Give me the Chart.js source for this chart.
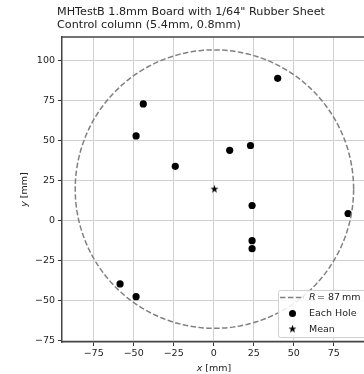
<!DOCTYPE html>
<html><head><meta charset="utf-8">
<script src="https://cdn.jsdelivr.net/npm/chart.js@4/dist/chart.umd.min.js"></script>
<style>
html,body{margin:0;padding:0;overflow:hidden;background:#fff;width:364px;height:374px}
#wrap{position:absolute;left:0;top:0;width:366px;height:374px}
</style>
</head><body><div id="wrap"><canvas id="c" width="366" height="374"></canvas></div>
<script>
const titleLines = ['MHTestB 1.8mm Board with 1/64" Rubber Sheet', 'Control column (5.4mm, 0.8mm)'];
const holeX = [40, -44, -48.5, -24, 10, 23, 24, 24, 24, 84, -58.5, -48.5];
const holeY = [89, 73, 53, 34, 44, 47, 9.5, -12.5, -17.5, 4.5, -39.5, -47.5];
const radiusMM = 87;
const xTicks = [-75, -50, -25, 0, 25, 50, 75];
const yTicks = [-75, -50, -25, 0, 25, 50, 75, 100];
const xRange = [-94.8, 95.2];
const yRange = [-75.8, 114.8];
const legendLabels = ['= 87\u2009mm', 'Each Hole', 'Mean'];
const xLabel = ['x', ' [mm]'];
const yLabel = ['y', ' [mm]'];

const FONT = "'DejaVu Sans', sans-serif";
const holes = holeX.map((x, i) => ({x: x, y: holeY[i]}));
const meanX = holeX.reduce((a, b) => a + b, 0) / holeX.length;
const meanY = holeY.reduce((a, b) => a + b, 0) / holeY.length;
const circle = [];
for (let k = 0; k <= 240; k++) {
  const t = k / 240 * 2 * Math.PI;
  circle.push({x: meanX + radiusMM * Math.cos(t), y: meanY + radiusMM * Math.sin(t)});
}

function makeStar(R) {
  const c = document.createElement('canvas');
  const s = Math.ceil(R * 2 + 2);
  c.width = s; c.height = s;
  const g = c.getContext('2d');
  g.fillStyle = '#000';
  g.beginPath();
  for (let i = 0; i < 10; i++) {
    const r = i % 2 === 0 ? R : R * 0.4;
    const a = -Math.PI / 2 + i * Math.PI / 5;
    const px = s / 2 + r * Math.cos(a), py = s / 2 + r * Math.sin(a);
    if (i === 0) g.moveTo(px, py); else g.lineTo(px, py);
  }
  g.closePath(); g.fill();
  return c;
}
const starImg = makeStar(4.2);

const minus = v => String(v).replace('-', '\u2212');

const deco = {
  id: 'deco',
  afterDraw(chart) {
    const ctx = chart.ctx, a = chart.chartArea;
    ctx.save();
    ctx.strokeStyle = '#444'; ctx.lineWidth = 1.5;
    ctx.beginPath(); ctx.moveTo(a.left, a.top); ctx.lineTo(a.right, a.top); ctx.stroke();
    ctx.fillStyle = '#222';
    ctx.font = '11.2px ' + FONT;
    ctx.textAlign = 'left'; ctx.textBaseline = 'alphabetic';
    ctx.fillText(titleLines[0], 57, 15);
    ctx.fillText(titleLines[1], 57, 28);
    const cx = (a.left + a.right) / 2;
    ctx.font = 'italic 9.5px ' + FONT;
    const w1 = ctx.measureText(xLabel[0]).width;
    ctx.font = '9.5px ' + FONT;
    const w2 = ctx.measureText(xLabel[1]).width;
    let sx = cx - (w1 + w2) / 2;
    ctx.font = 'italic 9.5px ' + FONT; ctx.fillText(xLabel[0], sx, 370.5);
    ctx.font = '9.5px ' + FONT; ctx.fillText(xLabel[1], sx + w1, 370.5);
    ctx.save();
    ctx.translate(27, (a.top + a.bottom) / 2); ctx.rotate(-Math.PI / 2);
    ctx.font = 'italic 9.5px ' + FONT;
    const v1 = ctx.measureText(yLabel[0]).width;
    ctx.font = '9.5px ' + FONT;
    const v2 = ctx.measureText(yLabel[1]).width;
    sx = -(v1 + v2) / 2;
    ctx.font = 'italic 9.5px ' + FONT; ctx.fillText(yLabel[0], sx, 0);
    ctx.font = '9.5px ' + FONT; ctx.fillText(yLabel[1], sx + v1, 0);
    ctx.restore();
    const bx = 278.5, by = 290.5, bw = 90, bh = 47;
    ctx.fillStyle = 'rgba(255,255,255,0.85)';
    ctx.strokeStyle = '#d0d0d0'; ctx.lineWidth = 1;
    ctx.beginPath();
    ctx.roundRect ? ctx.roundRect(bx, by, bw, bh, 2) : ctx.rect(bx, by, bw, bh);
    ctx.fill(); ctx.stroke();
    ctx.strokeStyle = 'gray'; ctx.lineWidth = 1.5; ctx.setLineDash([5.5, 2.4]);
    ctx.beginPath(); ctx.moveTo(280, 297.5); ctx.lineTo(304, 297.5); ctx.stroke();
    ctx.setLineDash([]);
    ctx.fillStyle = '#000';
    ctx.beginPath(); ctx.arc(292.5, 313.5, 3.5, 0, 2 * Math.PI); ctx.fill();
    ctx.drawImage(starImg, 292.5 - starImg.width / 2, 329 - starImg.height / 2);
    ctx.fillStyle = '#222'; ctx.textBaseline = 'middle';
    ctx.font = 'italic 9.5px ' + FONT;
    ctx.fillText('R', 309, 298);
    const rw = ctx.measureText('R').width;
    ctx.font = '9.5px ' + FONT;
    ctx.fillText(legendLabels[0], 309 + rw + 1.5, 298);
    ctx.fillText(legendLabels[1], 309, 314);
    ctx.fillText(legendLabels[2], 309, 329.5);
    ctx.restore();
  }
};

new Chart(document.getElementById('c'), {
  type: 'scatter',
  data: {
    datasets: [
      {label: 'R = 87 mm', data: circle, showLine: true, borderColor: 'gray', borderWidth: 1.5,
       borderDash: [5.5, 2.4], pointRadius: 0, fill: false, tension: 0},
      {label: 'Each Hole', data: holes, pointRadius: 3.6, pointHoverRadius: 3.6,
       backgroundColor: '#000', borderColor: '#000', borderWidth: 0},
      {label: 'Mean', data: [{x: meanX, y: meanY}], pointStyle: starImg, pointRadius: 4}
    ]
  },
  options: {
    responsive: false, animation: false, devicePixelRatio: 1,
    layout: {autoPadding: false, padding: {top: 37, left: 0, right: 0, bottom: 0}},
    plugins: {legend: {display: false}, title: {display: false}, tooltip: {enabled: false}},
    scales: {
      x: {
        type: 'linear', min: xRange[0], max: xRange[1],
        afterBuildTicks: s => { s.ticks = xTicks.map(v => ({value: v})); },
        afterFit: s => { s.height = 32; },
        ticks: {font: {family: FONT, size: 9.5}, color: '#222', padding: 2, maxRotation: 0,
                callback: v => minus(v)},
        grid: {color: '#d0d0d0', lineWidth: 1, drawTicks: true, tickLength: 4, tickColor: '#333'},
        border: {display: true, color: '#444', width: 1.5}
      },
      y: {
        type: 'linear', min: yRange[0], max: yRange[1],
        afterBuildTicks: s => { s.ticks = yTicks.map(v => ({value: v})); },
        afterFit: s => { s.width = 62; },
        ticks: {font: {family: FONT, size: 9.5}, color: '#222', padding: 3,
                callback: v => minus(v)},
        grid: {color: '#d0d0d0', lineWidth: 1, drawTicks: true, tickLength: 4, tickColor: '#333'},
        border: {display: true, color: '#444', width: 1.5}
      }
    }
  },
  plugins: [deco]
});
</script>
</body></html>
